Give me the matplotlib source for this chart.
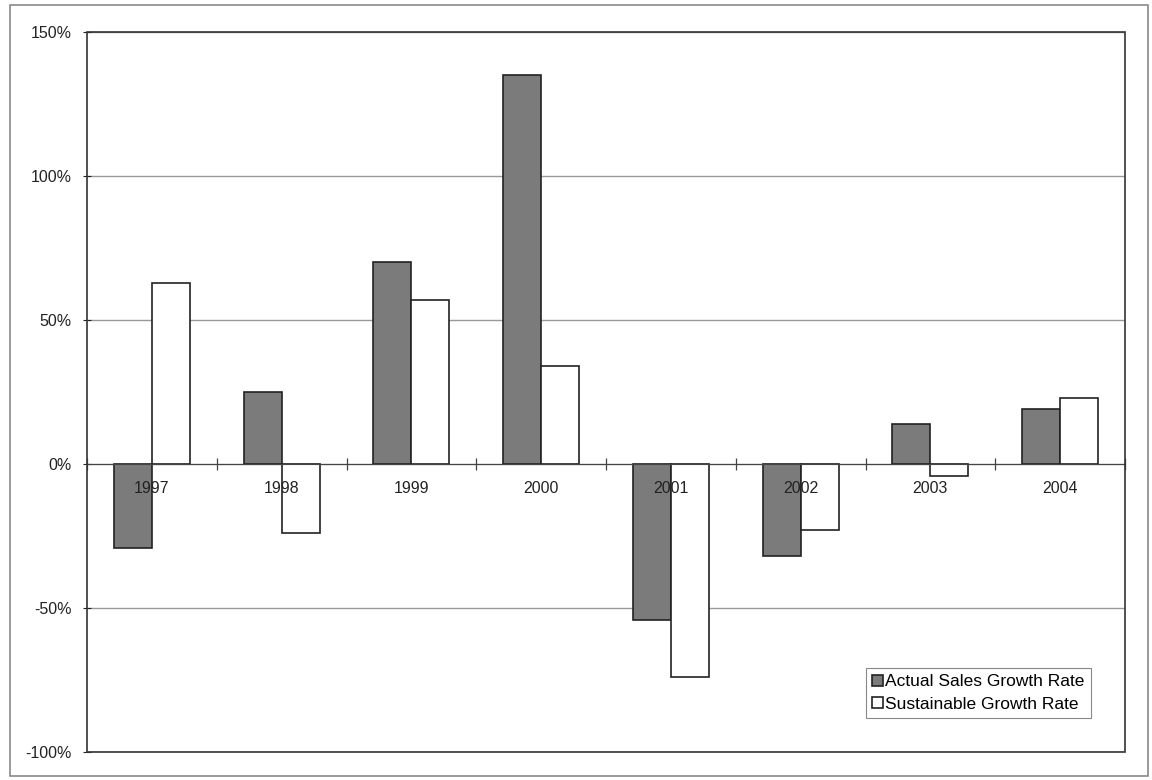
import numpy as np
import matplotlib
matplotlib.use('Agg')
import matplotlib.pyplot as plt
from matplotlib.patches import Rectangle
from matplotlib.ticker import FuncFormatter

plt.rcParams['font.family'] = ['Liberation Sans', 'DejaVu Sans']

years = ['1997', '1998', '1999', '2000', '2001', '2002', '2003', '2004']
actual_growth = [-29, 25, 70, 135, -54, -32, 14, 19]       # percent
sustainable_growth = [63, -24, 57, 34, -74, -23, -4, 23]  # percent

x = np.arange(len(years))
w = 0.293

fig = plt.figure(figsize=(11.52, 7.8), dpi=100)
ax = fig.add_axes([87 / 1152, 28 / 780, 1038 / 1152, 720 / 780])

ax.bar(x - w / 2, actual_growth, w, color='#7b7b7b', edgecolor='#222222', linewidth=1.2,
       label='Actual Sales Growth Rate', zorder=3)
ax.bar(x + w / 2, sustainable_growth, w, color='white', edgecolor='#222222', linewidth=1.2,
       label='Sustainable Growth Rate', zorder=3)

ax.set_xlim(-0.5, len(years) - 0.5)
ax.set_ylim(-100, 150)
ax.set_yticks([-100, -50, 0, 50, 100, 150])
ax.yaxis.set_major_formatter(FuncFormatter(lambda v, p: '%d%%' % v))
ax.yaxis.grid(True, color='#999999', linewidth=1.0, zorder=0)
ax.tick_params(axis='y', direction='inout', length=6, width=0.8, labelsize=11.5, pad=8, colors='#222222')

# x axis sits on the zero line, with ticks between categories
for s in ['top', 'right', 'left']:
    ax.spines[s].set_visible(False)
ax.spines['bottom'].set_position(('data', 0))
ax.spines['bottom'].set_color('#444444')
ax.spines['bottom'].set_zorder(4)
ax.set_xticks(x)
ax.set_xticklabels(years)
ax.set_xticks(np.arange(len(years) + 1) - 0.5, minor=True)
ax.tick_params(axis='x', which='major', length=0, labelsize=11.5, pad=12, colors='#222222')
ax.tick_params(axis='x', which='minor', direction='inout', length=9, width=0.9, color='#444444')
ax.xaxis.set_zorder(5)

# plot area border
ax.add_patch(Rectangle((0, 0), 1, 1, transform=ax.transAxes, fill=False,
                       edgecolor='#333333', linewidth=1.2, zorder=6, clip_on=False))

leg = ax.legend(loc='lower right', bbox_to_anchor=(0.967, 0.047), fontsize=12.5,
                frameon=True, fancybox=False, edgecolor='#888888', framealpha=1,
                handlelength=0.6, handleheight=0.6, handletextpad=0.15,
                borderpad=0.35, labelspacing=0.45, borderaxespad=0)
leg.get_frame().set_linewidth(0.8)
leg.set_zorder(7)

# chart area border
fig.patches.append(Rectangle((10 / 1152, 4 / 780), 1138 / 1152, 771 / 780,
                             transform=fig.transFigure, fill=False,
                             edgecolor='#8a8a8a', linewidth=1.2))

fig.savefig('out.png', dpi=100)
